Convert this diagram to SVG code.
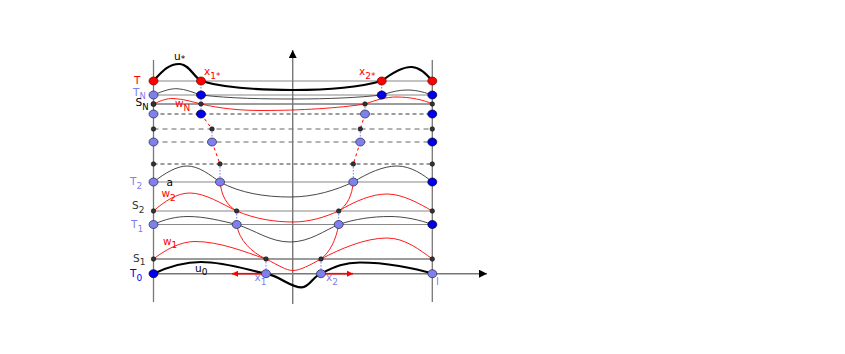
<svg xmlns="http://www.w3.org/2000/svg" width="845" height="354" viewBox="0 0 845 354">
<style>
text{font-family:"DejaVu Sans","Liberation Sans",sans-serif;font-size:10.5px}
.sub{font-size:9px}
.sn{font-size:8.5px}
.hl{stroke:#888;stroke-width:1.1;fill:none}
.hk{stroke:#222;stroke-width:0.9;fill:none}
.dk{stroke:#222;stroke-width:0.9;stroke-dasharray:4 3;fill:none}
.dg{stroke:#999;stroke-width:1.6;stroke-dasharray:5 4;fill:none}
.vl{stroke:#777;stroke-width:1.3;fill:none}
.ax{stroke:#777;stroke-width:1.4;fill:none}
.thick{stroke:#000;stroke-width:2.2;fill:none}
.thin{stroke:#333;stroke-width:0.9;fill:none}
.rc{stroke:#f00;stroke-width:0.9;fill:none}
.rd{stroke:#f00;stroke-width:1;stroke-dasharray:3 3;fill:none}
.bd{stroke:#7b7bff;stroke-width:1;stroke-dasharray:1.5 1.5;fill:none}
.red{fill:#f00;stroke:#600;stroke-width:0.7}
.blue{fill:#0000ee;stroke:#002;stroke-width:0.7}
.lb{fill:#7f7fee;stroke:#224;stroke-width:0.7}
.sm{fill:#333;stroke:#000;stroke-width:0.5}
.cr{fill:#f00}.cb{fill:#0000ee}.cl{fill:#7f7fee}.ck{fill:#000}.cg{fill:#333}
</style>
<defs>
<marker id="ah" viewBox="0 0 10 10" refX="10" refY="5" markerWidth="10" markerHeight="8" markerUnits="userSpaceOnUse" orient="auto"><path d="M0,0 L10,5 L0,10 Z" fill="#000"/></marker>
<marker id="rh" viewBox="0 0 10 10" refX="10" refY="5" markerWidth="9" markerHeight="6" markerUnits="userSpaceOnUse" orient="auto"><path d="M0,0 L10,5 L0,10 Z" fill="#f00"/></marker>
</defs>
<g id="grid">
<line class="vl" x1="153.5" y1="60" x2="153.5" y2="302"/>
<line class="vl" x1="432.3" y1="60" x2="432.3" y2="302"/>
<line class="hl" x1="153.5" y1="81" x2="432.3" y2="81"/>
<line class="hl" x1="153.5" y1="95" x2="432.3" y2="95"/>
<line class="hk" x1="153.5" y1="104" x2="432.3" y2="104"/>
<line class="dk" x1="153.5" y1="114" x2="432.3" y2="114"/>
<line class="dg" x1="153.5" y1="129" x2="432.3" y2="129"/>
<line class="dg" x1="153.5" y1="142" x2="432.3" y2="142"/>
<line class="dk" x1="153.5" y1="164" x2="432.3" y2="164"/>
<line class="hl" x1="153.5" y1="182" x2="432.3" y2="182"/>
<line class="hl" x1="153.5" y1="211" x2="432.3" y2="211"/>
<line class="hl" x1="153.5" y1="224.5" x2="432.3" y2="224.5"/>
<line class="hk" x1="153.5" y1="259" x2="432.3" y2="259"/>
<line class="ax" x1="150" y1="273.7" x2="487" y2="273.7" marker-end="url(#ah)"/>
<line class="ax" x1="292.7" y1="304" x2="292.7" y2="50" marker-end="url(#ah)"/>
</g>
<g id="connectors">
<path class="thick" d="M153.5,81 C163,70 170,63.5 180,64 C189,64.5 194,77 201,81 C225,88 265,90 293,90 C325,90 360,87 381.7,81 C392,73 402,66.5 412,67 C421,67.5 428,76 432.3,81"/>
<path class="thin" d="M153.5,95 C163,91 170,88.5 177,88.7 C186,89 194,93 201,95 C230,98.5 265,99 293,99 C330,99 360,97.5 381.7,95 C392,91.5 400,90 407,90 C418,90 426,93 432.3,95"/>
<path class="rc" d="M153.5,104 C161,100.5 167,98.3 173,98.5 C184,99 193,102 201,104 C220,108.5 240,110.5 262,110.5 C300,110.5 340,108 365,104 C376,100 386,97 396,97 C411,97 424,100 432.3,104"/>
<path class="thin" d="M153.5,182 C165,173 177,166 187,166 C199,166 210,175 220,182 C240,193 265,197 290,197 C315,197 336,190 353.3,182 C368,173 383,166 397,166 C411,166 424,175 432.3,182"/>
<path class="rc" d="M153.5,211 C165,201 177,193 190,193 C205,193 222,204 236.7,211 C255,219 275,222 293,222 C310,222 325,217 338.7,211 C355,201 372,194 387,194 C403,194 420,204 432.3,211"/>
<path class="rc" d="M220,182 C221.5,196 227,205.5 236.7,211"/>
<path class="rc" d="M353.3,182 C352,196 347,205.5 338.7,211"/>
<path class="thin" d="M153.5,224.5 C165,219 177,216.5 188,216.5 C205,216.5 222,221 236.7,224.5 C255,230 270,242 290,242 C310,242 325,230 338.7,224.5 C355,219 372,216.5 390,216.5 C405,216.5 420,220 432.3,224.5"/>
<path class="rc" d="M153.5,259 C165,250 180,241.5 195,241.5 C220,241.5 245,252 266,259 C278,265 286,270.5 293,270.5 C300,270.5 310,265 321,259 C340,249 365,238 387,238 C405,238 420,250 432.3,259"/>
<path class="rc" d="M236.7,224.5 C239,240 251,252 266,259"/>
<path class="rc" d="M338.7,224.5 C336,240 330,252 321,259"/>
<path class="thick" d="M153.5,273.7 C170,266 185,262 201,262 C225,262 248,270 266,273.7 C281,276.5 290,287.3 301.7,287.3 C310,287.3 313,276 321,273.7 C335,266 345,262.5 360,262.5 C385,262.5 415,268 432.3,273.7"/>
<path class="rd" d="M201,114 L212,129 M212,142 L220,164 M365,114 L360.3,129 M360.3,142 L353.3,164"/>
<path class="bd" d="M201,81 V114 M381.7,81 V95 M365,104 V114 M212,129 V142 M360.3,129 V142 M220,164 V182 M353.3,164 V182 M236.7,211 V224.5 M338.7,211 V224.5 M266,259 V273.7 M321,259 V273.7"/>
<line stroke="#f00" stroke-width="1.6" x1="262" y1="273.7" x2="232" y2="273.7" marker-end="url(#rh)"/>
<line stroke="#f00" stroke-width="1.6" x1="325" y1="273.7" x2="353" y2="273.7" marker-end="url(#rh)"/>
</g>
<g id="nodes">
<g id="row-T"><ellipse class="red" cx="153.5" cy="81" rx="4.5" ry="4"/><ellipse class="red" cx="201" cy="81" rx="4.5" ry="4"/><ellipse class="red" cx="381.7" cy="81" rx="4.5" ry="4"/><ellipse class="red" cx="432.3" cy="81" rx="4.5" ry="4"/></g>
<g id="row-TN"><ellipse class="lb" cx="153.5" cy="95" rx="4.5" ry="4"/><ellipse class="blue" cx="201" cy="95" rx="4.5" ry="4"/><ellipse class="blue" cx="381.7" cy="95" rx="4.5" ry="4"/><ellipse class="blue" cx="432.3" cy="95" rx="4.5" ry="4"/></g>
<g id="row-SN"><circle class="sm" cx="153.5" cy="104" r="2.6"/><circle class="sm" cx="201" cy="104" r="2.3"/><circle class="sm" cx="365" cy="104" r="2.3"/><circle class="sm" cx="432.3" cy="104" r="2.3"/></g>
<g id="row-114"><ellipse class="lb" cx="153.5" cy="114" rx="4.5" ry="4"/><ellipse class="blue" cx="201" cy="114" rx="4.5" ry="4"/><ellipse class="lb" cx="365" cy="114" rx="4.5" ry="4"/><ellipse class="blue" cx="432.3" cy="114" rx="4.5" ry="4"/></g>
<g id="row-129"><circle class="sm" cx="153.5" cy="129" r="2.3"/><circle class="sm" cx="212" cy="129" r="2.3"/><circle class="sm" cx="360.3" cy="129" r="2.3"/><circle class="sm" cx="432.3" cy="129" r="2.3"/></g>
<g id="row-142"><ellipse class="lb" cx="153.5" cy="142" rx="4.5" ry="4"/><ellipse class="lb" cx="212" cy="142" rx="4.5" ry="4"/><ellipse class="lb" cx="360.3" cy="142" rx="4.5" ry="4"/><ellipse class="blue" cx="432.3" cy="142" rx="4.5" ry="4"/></g>
<g id="row-164"><circle class="sm" cx="153.5" cy="164" r="2.3"/><circle class="sm" cx="220" cy="164" r="2.3"/><circle class="sm" cx="353.3" cy="164" r="2.3"/><circle class="sm" cx="432.3" cy="164" r="2.3"/></g>
<g id="row-T2"><ellipse class="lb" cx="153.5" cy="182" rx="4.5" ry="4"/><ellipse class="lb" cx="220" cy="182" rx="4.5" ry="4"/><ellipse class="lb" cx="353.3" cy="182" rx="4.5" ry="4"/><ellipse class="blue" cx="432.3" cy="182" rx="4.5" ry="4"/></g>
<g id="row-S2"><circle class="sm" cx="153.5" cy="211" r="2.3"/><circle class="sm" cx="236.7" cy="211" r="2.3"/><circle class="sm" cx="338.7" cy="211" r="2.3"/><circle class="sm" cx="432.3" cy="211" r="2.3"/></g>
<g id="row-T1"><ellipse class="lb" cx="153.5" cy="224.5" rx="4.5" ry="4"/><ellipse class="lb" cx="236.7" cy="224.5" rx="4.5" ry="4"/><ellipse class="lb" cx="338.7" cy="224.5" rx="4.5" ry="4"/><ellipse class="blue" cx="432.3" cy="224.5" rx="4.5" ry="4"/></g>
<g id="row-S1"><circle class="sm" cx="153.5" cy="259" r="2.3"/><circle class="sm" cx="266" cy="259" r="2.3"/><circle class="sm" cx="321" cy="259" r="2.3"/><circle class="sm" cx="432.3" cy="259" r="2.3"/></g>
<g id="row-T0"><ellipse class="blue" cx="153.5" cy="273.7" rx="4.5" ry="4"/><ellipse class="lb" cx="266" cy="273.7" rx="4.5" ry="4"/><ellipse class="lb" cx="321" cy="273.7" rx="4.5" ry="4"/><ellipse class="lb" cx="432.3" cy="273.7" rx="4.5" ry="4"/></g>
</g>
<g id="labels">
<text class="cr" x="134" y="84">T</text>
<text class="cl" x="133" y="95.5">T<tspan class="sn" dy="3.5">N</tspan></text>
<text class="ck" x="135.5" y="106">S<tspan class="sn" dy="4">N</tspan></text>
<text class="ck" x="174" y="60">u<tspan class="sub" dy="2">*</tspan></text>
<text class="cr" x="204" y="75">x<tspan class="sub" dy="4">1*</tspan></text>
<text class="cr" x="359" y="75">x<tspan class="sub" dy="4">2*</tspan></text>
<text class="cr" x="175" y="107">w<tspan class="sub" dy="4">N</tspan></text>
<text class="cl" x="130" y="185">T<tspan class="sub" dy="3.5">2</tspan></text>
<text class="ck" x="166.5" y="186">a</text>
<text class="cr" x="161.5" y="196.5">w<tspan class="sub" dy="4">2</tspan></text>
<text class="cg" x="132" y="209">S<tspan class="sub" dy="4">2</tspan></text>
<text class="cl" x="131" y="228">T<tspan class="sub" dy="4">1</tspan></text>
<text class="cr" x="163" y="245">w<tspan class="sub" dy="3">1</tspan></text>
<text class="cg" x="133" y="262">S<tspan class="sub" dy="3">1</tspan></text>
<text class="cb" x="130" y="277">T<tspan class="sub" dy="4">0</tspan></text>
<text class="ck" x="195" y="271.5">u<tspan class="sub" dy="3">0</tspan></text>
<text class="cl" x="254.5" y="281">x<tspan class="sub" dy="4">1</tspan></text>
<text class="cl" x="326" y="281">x<tspan class="sub" dy="4">2</tspan></text>
<text class="cl" x="436" y="285">l</text>
</g>
</svg>
